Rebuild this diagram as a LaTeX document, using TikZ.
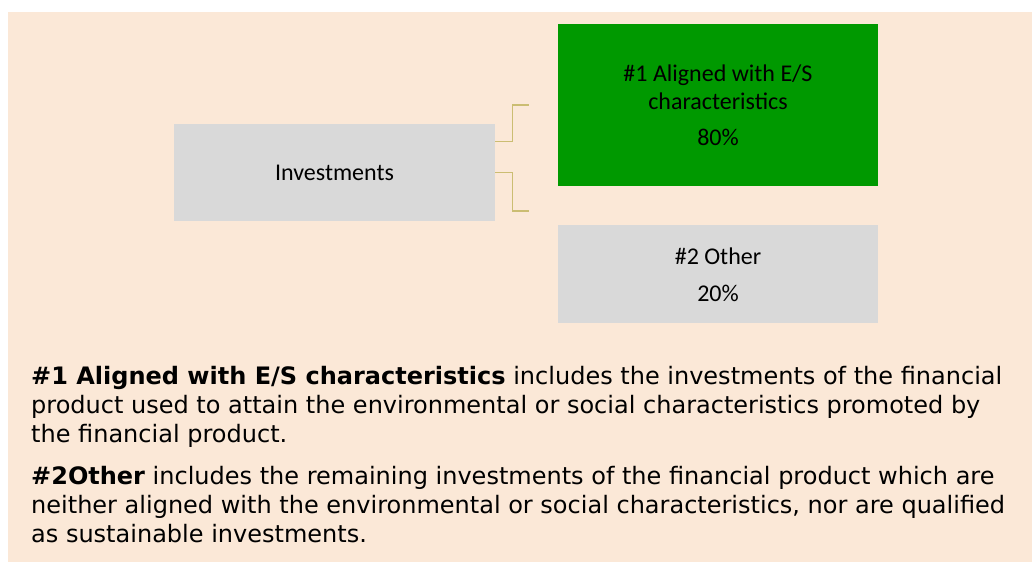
\documentclass[tikz,border=0pt]{standalone}
\usepackage{fontspec}
\setmainfont{Carlito}
\newfontfamily\verdfont{DejaVu Sans}
\usetikzlibrary{positioning}

\definecolor{peach}{HTML}{FBE8D7}
\definecolor{boxgrey}{HTML}{D9D9D9}
\definecolor{esgreen}{HTML}{009900}
\definecolor{linkgold}{HTML}{CBBD72}

\tikzset{
  invbox/.style={fill=boxgrey, minimum width=321pt, minimum height=97pt, inner sep=0pt,
    align=center, font=\fontsize{24}{28}\selectfont},
  greenbox/.style={invbox, fill=esgreen, minimum width=320pt, minimum height=162pt},
  otherbox/.style={invbox, minimum width=320pt, minimum height=98pt},
  link/.style={draw=linkgold, line width=1.3pt},
  notetext/.style={anchor=base west, inner sep=0pt, align=left,
    font=\verdfont\fontsize{24}{29}\selectfont},
}

\begin{document}
\begin{tikzpicture}[x=1pt, y=-1pt]
  \useasboundingbox (0,0) rectangle (1032,562);
  \fill[peach] (8,12) rectangle (1032,562);

  \node[invbox] (inv) at (334.5,172.5) {Investments};
  \node[greenbox] (aligned) at (718,105)
    {\#1 Aligned with E/S\\characteristics\\[8pt]80\%};
  \node[otherbox, below=39pt of aligned] (other) {\#2 Other\\[9pt]20\%};

  \coordinate (up) at (529,105);
  \coordinate (dn) at (529,211);
  \draw[link] ([yshift=31pt]inv.east) -- ++(17,0) |- (up);
  \draw[link] (inv.east) -- ++(17,0) |- (dn);

  % explanations (anchored on the last line)
  \node[notetext] (note1) at (31,442)
    {\textbf{\#1 Aligned with E/S characteristics} includes the investments of the financial\\
     product used to attain the environmental or social characteristics promoted by\\
     the financial product.};
  \node[notetext] (note2) at (31,542)
    {\textbf{\#2Other} includes the remaining investments of the financial product which are\\
     neither aligned with the environmental or social characteristics, nor are qualified\\
     as sustainable investments.};
\end{tikzpicture}
\end{document}
